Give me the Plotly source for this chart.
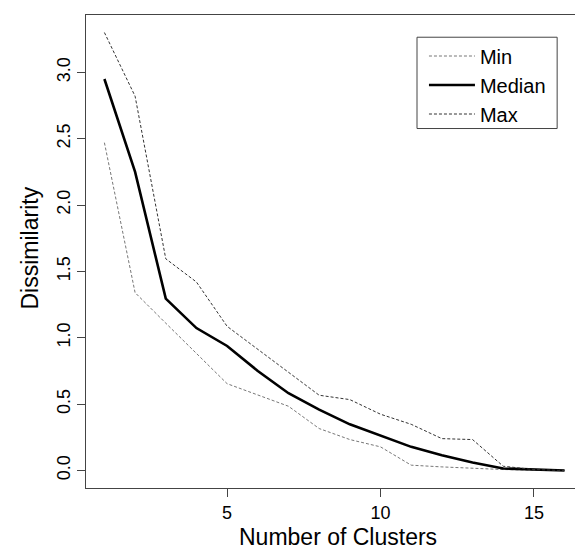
import plotly.graph_objects as go

clusters = list(range(1, 17))
min_vals = [2.47, 1.34, 1.11, 0.885, 0.654, 0.569, 0.484, 0.316, 0.233, 0.178, 0.040, 0.027, 0.015, 0.007, 0.003, 0.0]
median_vals = [2.95, 2.25, 1.295, 1.073, 0.938, 0.750, 0.582, 0.459, 0.348, 0.260, 0.178, 0.115, 0.060, 0.015, 0.007, 0.0]
max_vals = [3.30, 2.82, 1.595, 1.42, 1.086, 0.913, 0.740, 0.567, 0.534, 0.424, 0.348, 0.240, 0.233, 0.032, 0.007, 0.0]

x_ticks = [5, 10, 15]
y_ticks = [0.0, 0.5, 1.0, 1.5, 2.0, 2.5, 3.0]
y_tick_text = ["0.0", "0.5", "1.0", "1.5", "2.0", "2.5", "3.0"]
x_title = "Number of Clusters"
y_title = "Dissimilarity"

FONT = "Liberation Sans, Arial, Helvetica, sans-serif"
AXIS_COLOR = "#444444"

fig = go.Figure()
fig.add_trace(go.Scatter(x=clusters, y=min_vals, mode="lines", name="Min",
                         line=dict(color="#777777", width=1, dash="3px,2px")))
fig.add_trace(go.Scatter(x=clusters, y=median_vals, mode="lines", name="Median",
                         line=dict(color="#000000", width=2.6)))
fig.add_trace(go.Scatter(x=clusters, y=max_vals, mode="lines", name="Max",
                         line=dict(color="#333333", width=1, dash="3px,2px")))

# the page body adds an 8px offset, so the figure is 8px smaller and margins shifted
fig.update_layout(
    width=575, height=542,
    margin=dict(l=78, r=0, t=7, b=62, autoexpand=False),
    paper_bgcolor="white", plot_bgcolor="white",
    font=dict(family=FONT, size=18, color="black"),
    showlegend=True,
    legend=dict(
        x=0.680, y=0.852, xanchor="left", yanchor="middle",
        borderwidth=0, bgcolor="rgba(0,0,0,0)",
        font=dict(family=FONT, size=20, color="black"),
        tracegroupgap=0, itemwidth=46,
    ),
    shapes=[
        dict(type="rect", xref="paper", yref="paper",
             x0=0.666, x1=0.948, y0=0.760, y1=0.953,
             line=dict(color=AXIS_COLOR, width=1), fillcolor="white", layer="above"),
    ],
    xaxis=dict(
        range=[0.4, 16.6], tickvals=x_ticks, ticktext=[str(v) for v in x_ticks],
        showgrid=False, zeroline=False, automargin=False,
        showline=True, mirror=True, linecolor=AXIS_COLOR, linewidth=1,
        ticks="outside", ticklen=8, tickcolor=AXIS_COLOR, tickwidth=1,
        tickfont=dict(family=FONT, size=18, color="black"),
    ),
    yaxis=dict(
        range=[-0.132, 3.432], tickvals=y_ticks, ticktext=y_tick_text,
        tickangle=-90,
        showgrid=False, zeroline=False, automargin=False,
        showline=True, mirror=True, linecolor=AXIS_COLOR, linewidth=1,
        ticks="outside", ticklen=8, tickcolor=AXIS_COLOR, tickwidth=1,
        tickfont=dict(family=FONT, size=18, color="black"),
    ),
    annotations=[
        dict(text=x_title, xref="paper", yref="paper", x=0.5, y=0,
             xanchor="center", yanchor="middle", yshift=-49, xshift=3, showarrow=False,
             font=dict(family=FONT, size=23, color="black")),
        dict(text=y_title, xref="paper", yref="paper", x=0, y=0.5,
             xanchor="center", yanchor="middle", xshift=-57, yshift=3, textangle=-90, showarrow=False,
             font=dict(family=FONT, size=23, color="black")),
    ],
)

fig.write_html("out.html")
